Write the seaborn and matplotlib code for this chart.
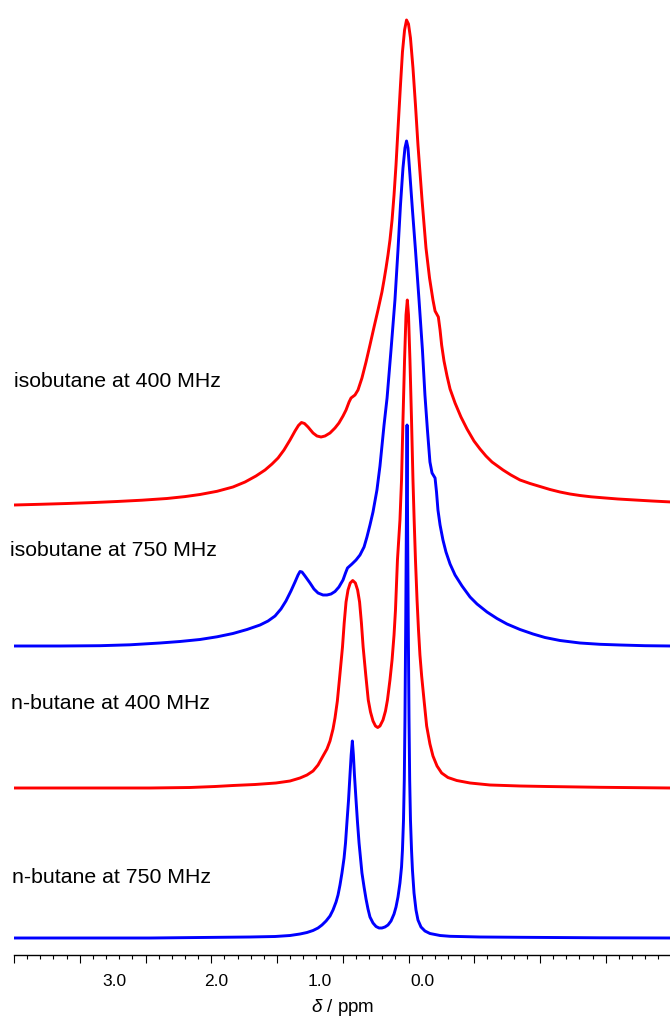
import pandas as pd
import seaborn as sns
import matplotlib.pyplot as plt
from matplotlib.ticker import MultipleLocator

# 1H NMR traces: chemical shift (ppm) and intensity above each trace baseline (arb. units)
iso400_ppm = [4.000, 3.802, 3.597, 3.407, 3.217, 3.027, 2.837, 2.700, 2.586, 2.456,
              2.335, 2.243, 2.160, 2.091, 2.038, 1.992, 1.947, 1.901, 1.863, 1.837,
              1.814, 1.791, 1.764, 1.726, 1.696, 1.665, 1.635, 1.597, 1.559, 1.529,
              1.498, 1.475, 1.452, 1.437, 1.407, 1.384, 1.354, 1.323, 1.293, 1.262,
              1.232, 1.202, 1.186, 1.171, 1.156, 1.141, 1.125, 1.110, 1.095, 1.076,
              1.061, 1.046, 1.030, 1.015, 1.000, 0.985, 0.966, 0.947, 0.928, 0.897,
              0.867, 0.840, 0.814, 0.798, 0.773, 0.760, 0.748, 0.730, 0.707, 0.684,
              0.646, 0.601, 0.555, 0.502, 0.456, 0.411, 0.365, 0.281, 0.221, 0.152,
              0.076, 0.000, -0.076, -0.152, -0.228, -0.304, -0.388, -0.479, -0.593,
              -0.722, -0.852, -1.000]
iso400_int = [-1, -0.3, 0.5, 1.4, 2.5, 3.8, 5.5, 7.4, 9.5, 12.7,
              17, 22, 28, 34, 40, 46, 54, 64, 73, 78.5,
              81.5, 80.5, 77, 71, 68, 67, 68, 71, 76, 81,
              88, 94, 102, 106, 109, 114, 126, 142, 159, 177,
              194, 212, 224, 236, 249, 264, 284, 309, 339, 384,
              419, 452, 474, 484, 480, 466, 436, 399, 359, 304,
              256, 226, 204, 193, 187, 174, 159, 143, 128, 115,
              101, 87, 75, 63, 55, 48, 42, 34, 29, 24,
              20.5, 17.5, 14.5, 12, 10, 8.5, 7.2, 6.2, 5,
              4, 3, 2]

iso750_ppm = [4.000, 3.650, 3.346, 3.118, 2.890, 2.738, 2.586, 2.456, 2.335, 2.228,
              2.129, 2.068, 2.015, 1.970, 1.932, 1.894, 1.863, 1.840, 1.825, 1.810,
              1.787, 1.749, 1.719, 1.688, 1.650, 1.620, 1.589, 1.559, 1.529, 1.498,
              1.479, 1.464, 1.430, 1.399, 1.369, 1.338, 1.316, 1.293, 1.270, 1.240,
              1.217, 1.186, 1.163, 1.133, 1.103, 1.080, 1.061, 1.042, 1.027, 1.015,
              1.004, 0.989, 0.970, 0.947, 0.920, 0.894, 0.875, 0.856, 0.837, 0.821,
              0.798, 0.787, 0.776, 0.760, 0.738, 0.715, 0.684, 0.646, 0.593, 0.532,
              0.479, 0.403, 0.327, 0.251, 0.152, 0.053, -0.038, -0.152, -0.304, -0.456,
              -0.608, -0.798, -1.000]
iso750_int = [0, 0, 0.3, 1.2, 3, 4.5, 6.5, 9.2, 12.5, 16.5,
              21, 25, 30, 37, 45, 55, 64, 71, 74.5, 74,
              70, 63, 57, 53, 51, 51, 52, 54.5, 59, 66,
              73, 78, 82, 86, 91, 99, 109, 121, 134, 156,
              180, 221, 248, 296, 346, 396, 441, 478, 498, 505,
              498, 471, 436, 396, 346, 296, 251, 216, 184, 173,
              168, 154, 136, 121, 106, 94, 82, 71, 60, 49,
              42, 34, 27.5, 22, 16.5, 12, 8.5, 5.5, 3, 1.7,
              1, 0.3, 0]

nbut400_ppm = [4.000, 3.346, 2.966, 2.662, 2.471, 2.335, 2.167, 2.008, 1.901, 1.825,
               1.772, 1.726, 1.688, 1.650, 1.620, 1.597, 1.574, 1.559, 1.541, 1.522,
               1.502, 1.489, 1.475, 1.460, 1.443, 1.424, 1.404, 1.387, 1.372, 1.358,
               1.345, 1.325, 1.306, 1.289, 1.270, 1.251, 1.234, 1.217, 1.194, 1.175,
               1.160, 1.141, 1.125, 1.110, 1.099, 1.084, 1.065, 1.053, 1.042, 1.030,
               1.019, 1.009, 1.000, 0.989, 0.977, 0.966, 0.957, 0.947, 0.935, 0.924,
               0.913, 0.900, 0.882, 0.862, 0.837, 0.814, 0.783, 0.748, 0.700, 0.633,
               0.532, 0.380, 0.152, -0.051, -0.456, -1.000]
nbut400_int = [0, 0, 0, 0.5, 1.5, 2.5, 3.5, 5, 7, 10,
               13, 17, 23, 32, 39, 47, 59, 70, 87, 113,
               141, 165, 186, 198, 205, 207.5, 205, 198, 186, 165,
               141, 113, 88, 76, 67, 62, 60.5, 62, 68, 77,
               88, 108, 128, 153, 178, 228, 268, 308, 368, 428,
               473, 488, 473, 428, 368, 308, 268, 228, 188, 158,
               133, 112, 88, 62, 44, 32, 22, 15, 10.5, 7.5,
               5, 3, 2, 1.5, 0.7, 0]

nbut750_ppm = [4.000, 3.346, 2.966, 2.586, 2.205, 2.015, 1.901, 1.825, 1.772, 1.726,
               1.688, 1.658, 1.627, 1.597, 1.574, 1.551, 1.536, 1.521, 1.506, 1.490,
               1.479, 1.468, 1.456, 1.445, 1.436, 1.427, 1.419, 1.411, 1.399, 1.388,
               1.376, 1.365, 1.354, 1.338, 1.323, 1.308, 1.293, 1.270, 1.247, 1.224,
               1.202, 1.179, 1.156, 1.133, 1.110, 1.095, 1.080, 1.065, 1.053, 1.046,
               1.038, 1.032, 1.027, 1.021, 1.016, 1.011, 1.007, 1.002, 0.996, 0.991,
               0.985, 0.977, 0.970, 0.958, 0.943, 0.928, 0.905, 0.875, 0.837, 0.760,
               0.684, 0.456, 0.152, -0.456, -1.000]
nbut750_int = [0, 0, 0, 0.5, 1, 1.5, 2.5, 4, 5.5, 7.5,
               10, 13, 17, 22, 28, 36, 43, 53, 65, 80,
               95, 116, 138, 163, 183, 197, 183, 163, 138, 116,
               95, 80, 65, 51, 39, 29, 21, 15, 11.5, 10,
               10, 11, 13, 17, 24, 31, 41, 55, 71, 88,
               118, 158, 218, 318, 418, 513, 418, 318, 218, 158,
               118, 88, 68, 45, 28, 18, 11, 7, 4.5, 2.5,
               1.7, 1, 0.7, 0.2, 0]

traces = ["isobutane at 400 MHz", "isobutane at 750 MHz",
          "n-butane at 400 MHz", "n-butane at 750 MHz"]
offsets = [451, 309, 167, 17]
colors = ["#ff0000", "#0000ff", "#ff0000", "#0000ff"]

tick_values = [3.0, 2.0, 1.0, 0.0]
tick_labels = ["3.0", "2.0", "1.0", "0.0"]

frames = []
for name, ppm, inten, off in zip(traces,
                                 [iso400_ppm, iso750_ppm, nbut400_ppm, nbut750_ppm],
                                 [iso400_int, iso750_int, nbut400_int, nbut750_int],
                                 offsets):
    frames.append(pd.DataFrame({"ppm": ppm,
                                "signal": [v + off for v in inten],
                                "trace": name}))
df = pd.concat(frames, ignore_index=True)

sns.set_style("ticks")
plt.rcParams["font.family"] = ["Liberation Sans", "DejaVu Sans"]
plt.rcParams["mathtext.fontset"] = "custom"
plt.rcParams["mathtext.it"] = "Liberation Sans:italic"
plt.rcParams["mathtext.rm"] = "Liberation Sans"
plt.rcParams["text.color"] = "black"
plt.rcParams["axes.labelcolor"] = "black"
plt.rcParams["xtick.color"] = "black"

fig = plt.figure(figsize=(6.7, 10.21), dpi=100)
ax = fig.add_axes([14 / 670, 66 / 1021, 657.5 / 670, 955 / 1021])

sns.lineplot(data=df, x="ppm", y="signal", hue="trace",
             palette=dict(zip(traces, colors)), estimator=None,
             linewidth=2.1, legend=False, ax=ax)

ax.set_xlim(4.0, -1.0)
ax.set_ylim(0, 955)
for s in ["left", "right", "top"]:
    ax.spines[s].set_visible(False)
ax.spines["bottom"].set_linewidth(1.0)
ax.spines["bottom"].set_color("black")
ax.set_yticks([])
ax.set_xlabel("")
ax.set_ylabel("")
ax.xaxis.set_major_locator(MultipleLocator(0.5))
ax.xaxis.set_minor_locator(MultipleLocator(0.1))
ax.tick_params(axis="x", which="major", direction="out", length=5.6, width=0.8,
               bottom=True, labelbottom=False, color="black")
ax.tick_params(axis="x", which="minor", direction="out", length=3.2, width=0.8,
               bottom=True, color="black")

# tick labels sit on their own scale, as in the original figure
shift, scale = 0.897, 0.781
sec = ax.secondary_xaxis("bottom", functions=(lambda p: (p - shift) / scale,
                                              lambda v: shift + scale * v))
sec.set_xticks(tick_values, labels=tick_labels)
sec.tick_params(length=0, pad=13.5, labelsize=12.5, labelcolor="black")
sec.spines["bottom"].set_visible(False)
sec.set_xlabel(r"$\delta$ / ppm", fontsize=13.5, labelpad=6)

label_x = [4.003, 4.033, 4.025, 4.018]
label_y = [568, 398.5, 246, 72]
for name, x, y in zip(traces, label_x, label_y):
    ax.text(x, y, name, fontsize=15.3, color="black", ha="left", va="baseline")

fig.savefig("out.png", dpi=100)
